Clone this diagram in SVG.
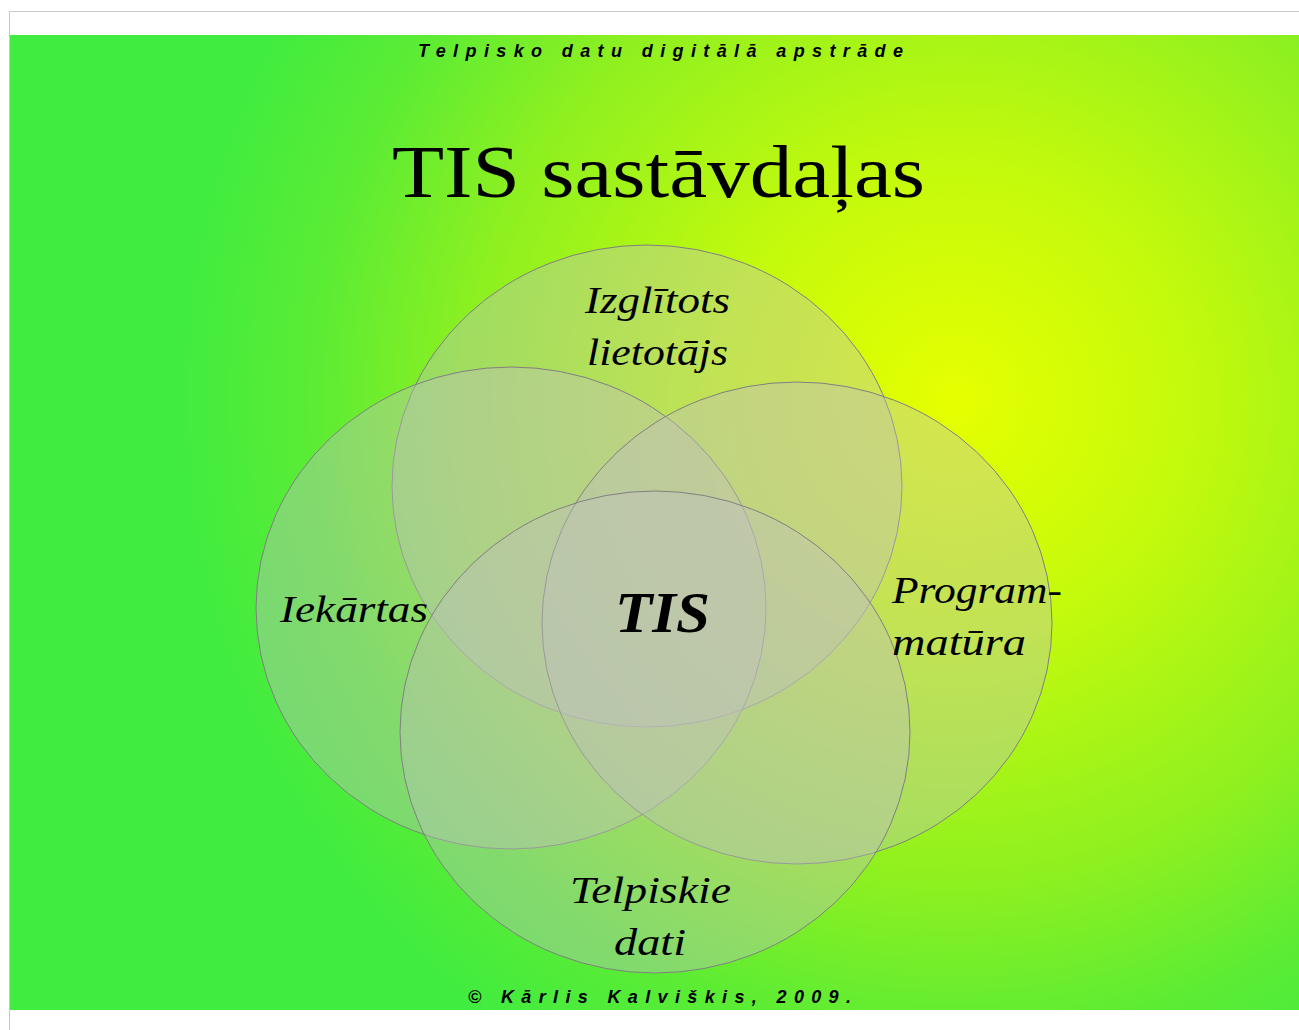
<svg xmlns="http://www.w3.org/2000/svg" width="1299" height="1030" viewBox="0 0 1299 1030">
<defs>
<radialGradient id="bg" gradientUnits="userSpaceOnUse" cx="955" cy="400" r="780">
<stop offset="0" stop-color="#e6ff00"/>
<stop offset="0.3" stop-color="#c4fa0c"/>
<stop offset="0.62" stop-color="#8ef020"/>
<stop offset="0.82" stop-color="#5cec34"/>
<stop offset="1" stop-color="#40ec40"/>
</radialGradient>
<style>
.ell{fill:#c0c0c0;fill-opacity:0.4;stroke:#808080;stroke-width:1}
.lbl{font-family:"Liberation Serif","DejaVu Serif",serif;font-style:italic;font-size:38px;fill:#000}
.tis{font-family:"Liberation Serif","DejaVu Serif",serif;font-style:italic;font-weight:bold;font-size:57px;fill:#000}
.hdr{font-family:"Liberation Sans",Arial,sans-serif;font-style:italic;font-weight:bold;font-size:18px;fill:#000}
</style>
</defs>
<rect x="0" y="0" width="1299" height="1030" fill="#ffffff"/>
<line x1="9" y1="11.5" x2="1299" y2="11.5" stroke="#c8c8c8" stroke-width="1"/>
<line x1="9.5" y1="11" x2="9.5" y2="1030" stroke="#c8c8c8" stroke-width="1"/>
<rect x="10" y="35" width="1289" height="975" fill="url(#bg)"/>
<text class="hdr" x="418" y="57" textLength="485" lengthAdjust="spacing">Telpisko datu digitālā apstrāde</text>
<text x="392" y="197" font-family="Liberation Serif,'DejaVu Serif',serif" font-size="73" textLength="533" lengthAdjust="spacingAndGlyphs">TIS sastāvdaļas</text>
<g id="user"><ellipse class="ell" cx="647" cy="486" rx="255" ry="241"/></g>
<g id="hardware"><ellipse class="ell" cx="511" cy="608" rx="255" ry="241"/></g>
<g id="software"><ellipse class="ell" cx="797" cy="623" rx="255" ry="241"/></g>
<g id="data"><ellipse class="ell" cx="655" cy="732" rx="255" ry="241"/></g>
<g id="connectors"></g>
<g id="labels">
<text class="lbl" x="585" y="313" textLength="145" lengthAdjust="spacingAndGlyphs">Izglītots</text>
<text class="lbl" x="587" y="365" textLength="141" lengthAdjust="spacingAndGlyphs">lietotājs</text>
<text class="lbl" x="280" y="622" textLength="148" lengthAdjust="spacingAndGlyphs">Iekārtas</text>
<text class="lbl" x="892" y="603" textLength="170" lengthAdjust="spacingAndGlyphs">Program-</text>
<text class="lbl" x="892" y="655" textLength="134" lengthAdjust="spacingAndGlyphs">matūra</text>
<text class="lbl" x="570" y="903" textLength="161" lengthAdjust="spacingAndGlyphs">Telpiskie</text>
<text class="lbl" x="614" y="955" textLength="72" lengthAdjust="spacingAndGlyphs">dati</text>
<text class="tis" x="615" y="632" textLength="95" lengthAdjust="spacingAndGlyphs">TIS</text>
</g>
<text class="hdr" x="468" y="1003" textLength="383" lengthAdjust="spacing">© Kārlis Kalviškis, 2009.</text>
</svg>
